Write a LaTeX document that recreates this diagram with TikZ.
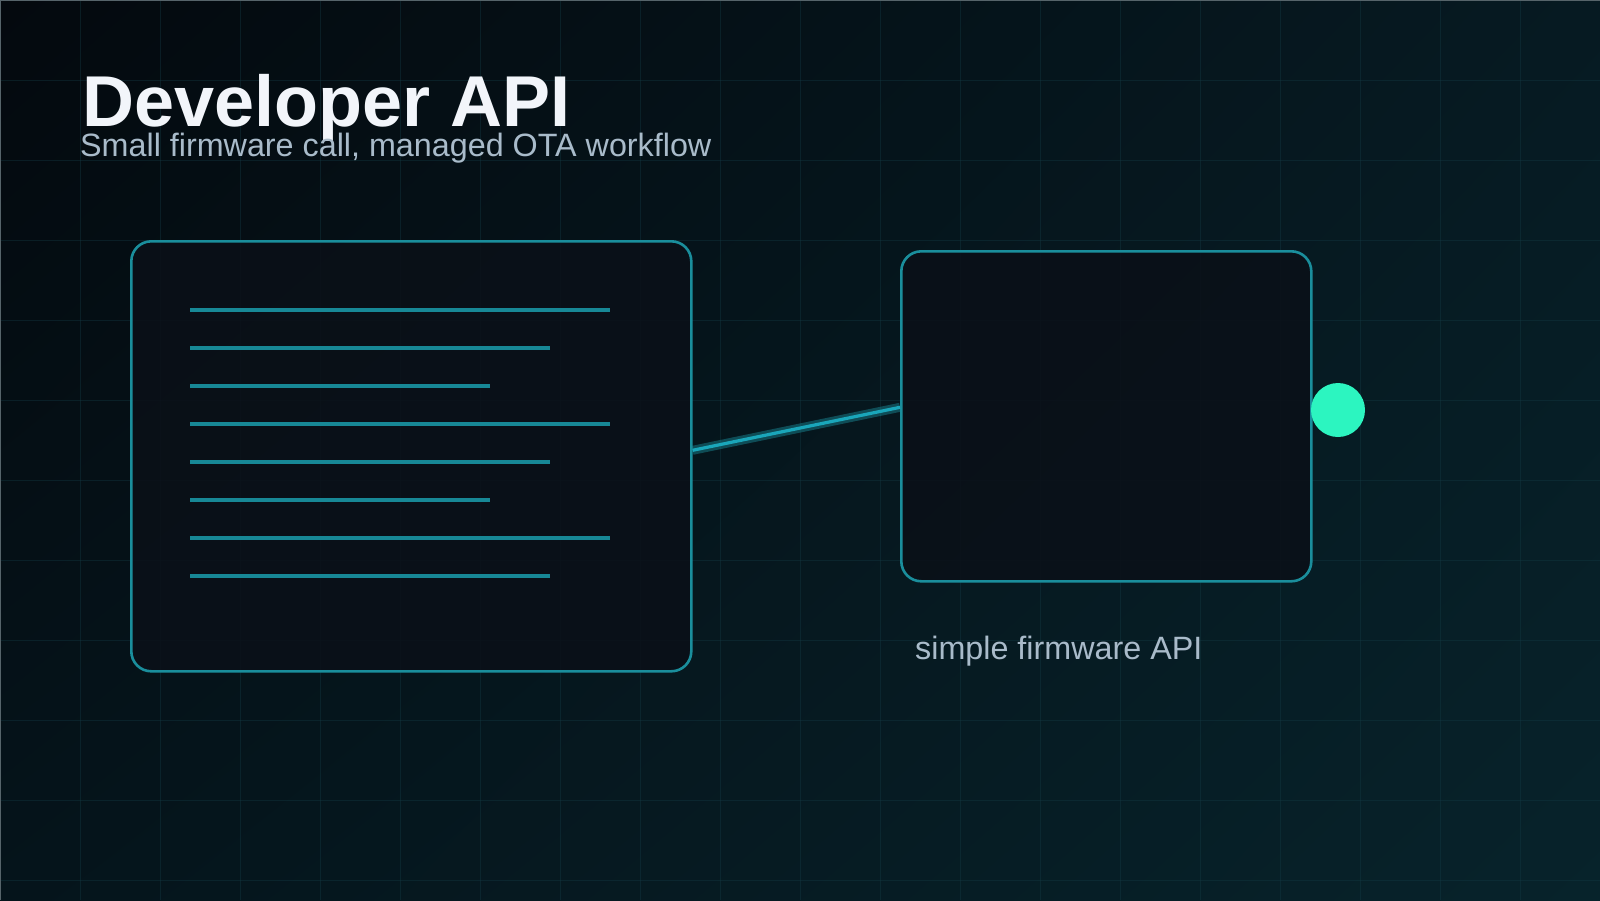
\documentclass[tikz,border=0pt]{standalone}
\usepackage{fontspec}
\setmainfont{Liberation Sans}
\usetikzlibrary{shadings}
\begin{document}
\begin{tikzpicture}[x=1pt,y=-1pt,
  gridline/.style={draw=gridc, line width=0.8pt, opacity=0.38},
  panel/.style={draw=edgec, line width=2.6pt, rounded corners=20pt, fill=panelc, fill opacity=0.88, inner sep=0pt, anchor=north west},
  codeline/.style={draw=linec, line width=3.2pt},
  glowline/.style={draw=edgec, line width=9pt, opacity=0.45},
  coreline/.style={draw=wirec, line width=3.2pt},
  dotnode/.style={circle, fill=mint, minimum size=54pt, inner sep=0pt},
  titletext/.style={anchor=base west, inner sep=0pt, text=titlec, font=\fontsize{72}{72}\selectfont\bfseries},
  subtext/.style={anchor=base west, inner sep=0pt, text=subc, font=\fontsize{32.3}{33}\selectfont},
]
\definecolor{bgA}{HTML}{04090E}
\definecolor{bgB}{HTML}{061A22}
\definecolor{bgC}{HTML}{05141B}
\definecolor{bgD}{HTML}{07232B}
\definecolor{gridc}{HTML}{143C46}
\definecolor{panelc}{HTML}{0A1018}
\definecolor{edgec}{HTML}{1A8E9C}
\definecolor{linec}{HTML}{178896}
\definecolor{wirec}{HTML}{1AA6BA}
\definecolor{mint}{HTML}{2CF5C0}
\definecolor{titlec}{HTML}{F2F5FA}
\definecolor{subc}{HTML}{A9BBCA}
\definecolor{framec}{HTML}{56646A}
\useasboundingbox (0,0) rectangle (1600,900);
\shade[upper left=bgA, upper right=bgB, lower left=bgC, lower right=bgD] (0,0) rectangle (1600,900);
\foreach \x in {80,160,...,1520} \draw[gridline] (\x,0) -- (\x,900);
\foreach \y in {80,160,...,880} \draw[gridline] (0,\y) -- (1600,\y);
\draw[framec, line width=1.2pt] (0,900) -- (0,0) -- (1600,0);

\node[titletext] (title) at (82,126) {Developer API};
\node[subtext] (subtitle) at (80,156) {Small firmware call, managed OTA workflow};

\node[panel, minimum width=560pt, minimum height=430pt] (code) at (130,240) {};
\node[panel, minimum width=410pt, minimum height=330pt] (api) at (900,250) {};

\foreach \i/\len in {0/420,1/360,2/300,3/420,4/360,5/300,6/420,7/360}
  \draw[codeline] (190,310+38*\i) -- ++(\len,0);

\coordinate (wa) at ([yshift=6pt]code.east);
\coordinate (wb) at ([yshift=9pt]api.west);
\draw[glowline] (wa) -- (wb);
\draw[coreline] (wa) -- (wb);

\node[dotnode] (dot) at (1338,410) {};

\node[subtext] (label) at (915,659) {simple firmware API};
\end{tikzpicture}
\end{document}
